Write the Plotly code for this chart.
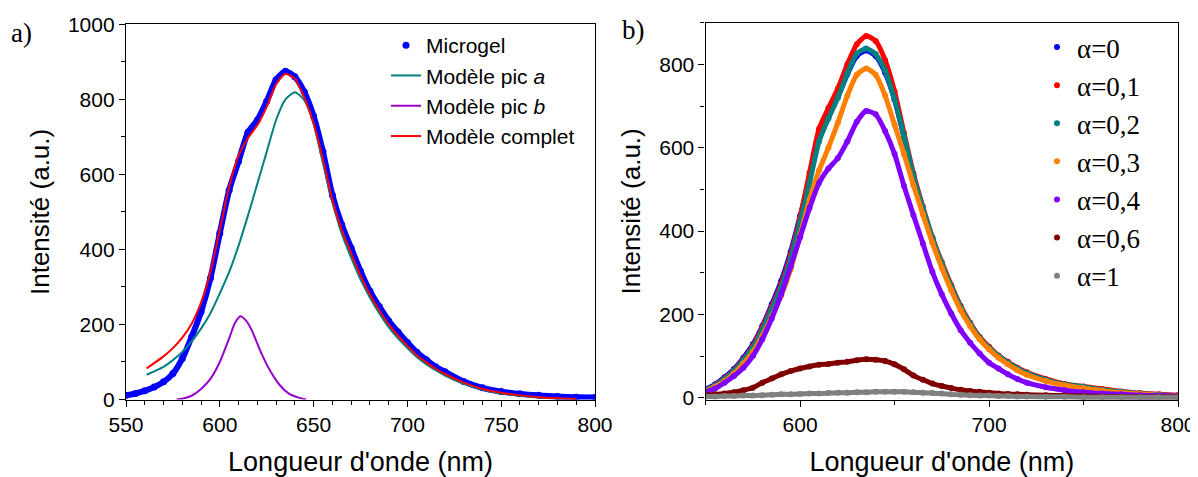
import plotly.graph_objects as go

# ---------------- Panel a) ----------------
wl_a = [550, 555, 560, 565, 570, 575, 580, 585, 590, 595, 600, 605, 610, 615, 620, 625,
        630, 635, 640, 645, 650, 655, 660, 665, 670, 675, 680, 685, 690, 695, 700, 705,
        710, 715, 720, 730, 740, 750, 760, 770, 780, 790, 800]
microgel = [11, 16, 23, 33, 47, 69, 109, 167, 234, 323, 443, 558, 635, 712, 745, 795,
            852, 875, 860, 820, 755, 660, 545, 466, 404, 342, 289, 248, 210, 180, 152, 126,
            106, 87, 74, 48, 31, 21, 15, 11, 8, 6, 5]

wl_model = [561, 565, 570, 575, 580, 585, 590, 595, 600, 605, 610, 615, 620, 625, 630,
            635, 640, 645, 650, 655, 660, 665, 670, 675, 680, 685, 690, 695, 700, 705,
            710, 715, 720, 730, 740, 750, 760, 770, 780, 790]
pic_a = [66, 75, 87, 105, 127, 155, 189, 230, 283, 340, 410, 490, 575, 660, 745,
         800, 819, 798, 735, 630, 528, 442, 378, 320, 272, 230, 193, 163, 137, 113,
         94, 78, 64, 42, 26, 16, 10, 5, 2, 0]
complet = [83, 97, 115, 137, 165, 202, 258, 340, 452, 567, 650, 697, 731, 780, 840,
           868, 855, 805, 737, 640, 532, 452, 390, 330, 280, 238, 200, 170, 143, 118,
           99, 82, 68, 45, 28, 18, 11, 6, 3, 1]

wl_b = [577, 580, 585, 590, 595, 600, 605, 608, 611, 614, 617, 622, 627, 632, 637, 642, 646]
pic_b = [0, 2, 10, 28, 55, 100, 163, 203, 222, 210, 185, 125, 75, 38, 15, 5, 0]

# ---------------- Panel b) ----------------
wl_b_panel = [550, 555, 560, 565, 570, 575, 580, 585, 590, 595, 600, 605, 610, 615, 620,
              625, 630, 635, 640, 645, 650, 655, 660, 665, 670, 675, 680, 685, 690, 695,
              700, 705, 710, 715, 720, 730, 740, 750, 760, 770, 780, 790, 800]
alpha_labels = ["α=0", "α=0,1", "α=0,2", "α=0,3", "α=0,4", "α=0,6", "α=1"]
alpha_0 = [20, 32, 49, 69, 96, 128, 172, 224, 280, 350, 436, 525, 620, 675, 722,
           776, 820, 833, 820, 780, 715, 625, 530, 452, 382, 320, 265, 215, 177, 143,
           119, 99, 83, 68, 57, 41, 31, 24, 17, 12, 9, 6, 5]
alpha_01 = [18, 30, 46, 66, 92, 124, 168, 218, 272, 342, 432, 540, 645, 695, 742,
            800, 848, 868, 856, 810, 735, 635, 538, 458, 385, 325, 270, 220, 180, 146,
            122, 101, 86, 72, 61, 45, 33, 27, 21, 15, 11, 8, 6]
alpha_02 = [18, 29, 45, 64, 90, 120, 162, 212, 265, 333, 420, 515, 615, 670, 720,
            778, 826, 838, 825, 785, 715, 628, 532, 455, 384, 322, 267, 217, 178, 144,
            120, 100, 84, 70, 59, 43, 32, 26, 19, 14, 10, 7, 5]
alpha_03 = [16, 26, 40, 58, 82, 110, 148, 195, 245, 308, 390, 475, 545, 600, 660,
            725, 775, 790, 775, 725, 655, 585, 510, 440, 372, 312, 258, 210, 172, 140,
            116, 96, 80, 66, 55, 40, 30, 23, 17, 12, 9, 6, 5]
alpha_04 = [14, 22, 36, 52, 72, 100, 140, 190, 248, 315, 385, 455, 515, 550, 575,
            615, 662, 688, 680, 640, 585, 508, 438, 370, 302, 248, 202, 162, 132, 106,
            84, 70, 56, 45, 36, 25, 18, 13, 10, 8, 6, 5, 4]
alpha_06 = [6, 8, 10, 13, 18, 24, 36, 46, 56, 64, 70, 75, 79, 81, 84,
            86, 90, 92, 91, 88, 80, 68, 53, 43, 34, 28, 23, 19, 16, 14,
            12, 10, 9, 8, 7, 6, 5, 4, 3, 3, 2, 2, 2]
alpha_1 = [3, 3, 4, 4, 5, 5, 6, 7, 8, 8, 9, 10, 10, 11, 12,
           12, 13, 13, 14, 14, 14, 14, 13, 12, 11, 10, 8, 7, 6, 5,
           5, 4, 4, 3, 3, 2, 2, 1, 1, 1, 1, 1, 1]
alpha_series = [alpha_0, alpha_01, alpha_02, alpha_03, alpha_04, alpha_06, alpha_1]
alpha_colors = ["#0000FF", "#FF0000", "#008080", "#FF8000", "#8000FF", "#800000", "#808080"]

SANS = "Liberation Sans, Arial, sans-serif"
SERIF = "Liberation Serif, Times New Roman, serif"

# page body has an 8px margin: work in screen pixels and convert
OFF = 8
W, H = 1198 - OFF, 477 - OFF


def fx(px):
    return (px - OFF) / W


def fy(py):
    return 1 - (py - OFF) / H


fig = go.Figure()

# Panel a traces
fig.add_trace(go.Scatter(x=wl_a, y=microgel, mode="lines",
                         line=dict(color="#0000FF", width=6, shape="spline", smoothing=0.6),
                         showlegend=False, hoverinfo="skip", xaxis="x", yaxis="y"))
fig.add_trace(go.Scatter(x=wl_a, y=microgel, mode="markers", name="Microgel",
                         marker=dict(color="#0000FF", size=7), legend="legend", xaxis="x", yaxis="y"))
fig.add_trace(go.Scatter(x=wl_model, y=pic_a, mode="lines", name="Modèle pic <i>a</i>",
                         line=dict(color="#008080", width=2, shape="spline", smoothing=0.6),
                         legend="legend", xaxis="x", yaxis="y"))
fig.add_trace(go.Scatter(x=wl_b, y=pic_b, mode="lines", name="Modèle pic <i>b</i>",
                         line=dict(color="#9900CC", width=2, shape="spline", smoothing=0.6),
                         legend="legend", xaxis="x", yaxis="y"))
fig.add_trace(go.Scatter(x=wl_model, y=complet, mode="lines", name="Modèle complet",
                         line=dict(color="#FF0000", width=2, shape="spline", smoothing=0.6),
                         legend="legend", xaxis="x", yaxis="y"))

# Panel b traces
for i, (lab, ys, col) in enumerate(zip(alpha_labels, alpha_series, alpha_colors)):
    fig.add_trace(go.Scatter(x=wl_b_panel, y=ys, mode="lines",
                             line=dict(color=col, width=5, shape="spline", smoothing=0.6),
                             showlegend=False, hoverinfo="skip", xaxis="x2", yaxis="y2"))
    fig.add_trace(go.Scatter(x=wl_b_panel, y=ys, mode="markers", name=lab, legendgroup="g%d" % i,
                             marker=dict(color=col, size=6), legend="legend2", xaxis="x2", yaxis="y2"))

axis_common = dict(showline=True, linecolor="black", linewidth=1.3, mirror=True, ticks="outside",
                   ticklen=6, tickwidth=1.3, tickcolor="black", showgrid=False, zeroline=False,
                   tickfont=dict(family=SANS, size=21, color="black"))
xtitle_font = dict(family=SANS, size=27, color="black")
ytitle_font = dict(family=SANS, size=26, color="black")

fig.update_layout(
    width=W, height=H, template="none",
    margin=dict(l=0, r=0, t=0, b=0),
    paper_bgcolor="white", plot_bgcolor="white",
    xaxis=dict(domain=[fx(126), fx(595)], range=[550, 800], dtick=50, tick0=550,
               minor=dict(dtick=10, ticks="outside", ticklen=4, tickcolor="black"),
               title=dict(text="Longueur d'onde (nm)", standoff=17, font=xtitle_font),
               anchor="y", **axis_common),
    yaxis=dict(domain=[fy(399.5), fy(24.3)], range=[0, 1000], dtick=200, tick0=0,
               minor=dict(dtick=100, ticks="outside", ticklen=4, tickcolor="black"),
               title=dict(text="Intensité (a.u.)", standoff=10, font=ytitle_font),
               anchor="x", **axis_common),
    xaxis2=dict(domain=[fx(705.6), fx(1178)], range=[550, 800], dtick=100, tick0=600,
                minor=dict(dtick=50, ticks="outside", ticklen=4, tickcolor="black"),
                title=dict(text="Longueur d'onde (nm)", standoff=17, font=xtitle_font),
                anchor="y2", **axis_common),
    yaxis2=dict(domain=[fy(400), fy(22.7)], range=[-5.5, 900], dtick=200, tick0=0,
                minor=dict(dtick=100, ticks="outside", ticklen=4, tickcolor="black"),
                title=dict(text="Intensité (a.u.)", standoff=11, font=ytitle_font),
                anchor="x2", **axis_common),
    legend=dict(x=fx(386), y=fy(25), xanchor="left", yanchor="top", bgcolor="rgba(0,0,0,0)",
                font=dict(family=SANS, size=21, color="black"), tracegroupgap=0),
    legend2=dict(x=fx(1037), y=fy(23), xanchor="left", yanchor="top", bgcolor="rgba(0,0,0,0)",
                 font=dict(family=SERIF, size=27, color="black"), traceorder="grouped",
                 tracegroupgap=0),
    annotations=[
        dict(text="a)", x=fx(9), y=fy(33), xref="paper", yref="paper", xanchor="left",
             yanchor="middle", showarrow=False, font=dict(family=SERIF, size=27, color="black")),
        dict(text="b)", x=fx(620), y=fy(30), xref="paper", yref="paper", xanchor="left",
             yanchor="middle", showarrow=False, font=dict(family=SERIF, size=27, color="black")),
    ],
)

fig.write_html("out.html")
